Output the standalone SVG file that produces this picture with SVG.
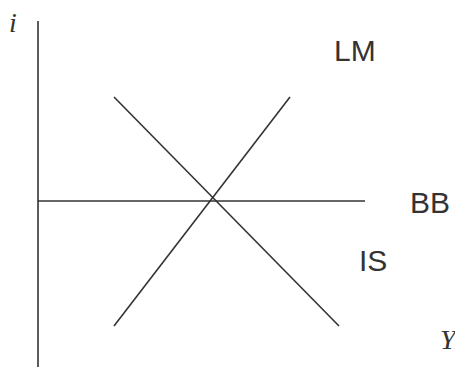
<svg xmlns="http://www.w3.org/2000/svg" width="455" height="371" viewBox="0 0 455 371">
<style>
.ln{stroke:#333;stroke-width:1.6;fill:none}
.lb{font-family:"Liberation Sans",Arial,sans-serif;font-size:30px;fill:#333}
.ax{font-family:"Liberation Serif","Times New Roman",serif;font-style:italic;font-size:28px;fill:#333}
</style>
<rect width="455" height="371" fill="#fff"/>
<g id="connectors">
<line class="ln" x1="38" y1="21" x2="38" y2="367"/>
<line class="ln" x1="38" y1="201" x2="365" y2="201"/>
<line class="ln" x1="114" y1="97" x2="339" y2="326"/>
<line class="ln" x1="114" y1="326" x2="290" y2="97"/>
</g>
<g id="axis-i"><text class="ax" x="9" y="32">i</text></g>
<g id="axis-Y"><text class="ax" x="440" y="349">Y</text></g>
<g id="LM"><text class="lb" x="334" y="61">LM</text></g>
<g id="BB"><text class="lb" x="410" y="213">BB</text></g>
<g id="IS"><text class="lb" x="359" y="271">IS</text></g>
</svg>
